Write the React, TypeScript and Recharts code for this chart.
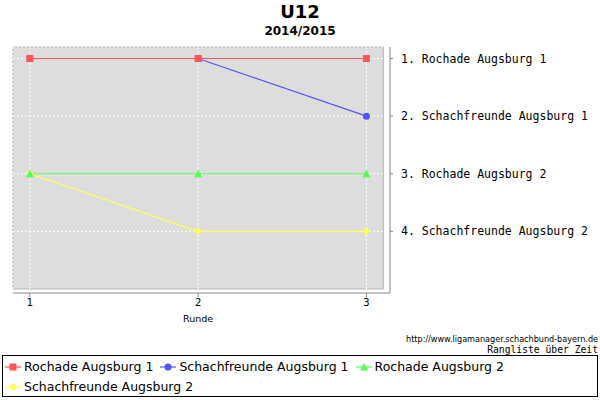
import {
  CartesianGrid,
  Line,
  LineChart,
  ReferenceArea,
  XAxis,
  YAxis,
} from "recharts";

const rounds = [1, 2, 3];
const rankTicks = [1, 2, 3, 4];
const standings = [
  "Rochade Augsburg 1",
  "Schachfreunde Augsburg 1",
  "Rochade Augsburg 2",
  "Schachfreunde Augsburg 2",
];

const rochade1 = [1, 1, 1];
const schach1 = [1, 1, 2];
const rochade2 = [3, 3, 3];
const schach2 = [3, 4, 4];

type Shape = "square" | "circle" | "triangle" | "diamond";

const series: { key: string; name: string; color: string; shape: Shape }[] = [
  { key: "r1", name: "Rochade Augsburg 1", color: "#ff5555", shape: "square" },
  { key: "s1", name: "Schachfreunde Augsburg 1", color: "#5555ff", shape: "circle" },
  { key: "r2", name: "Rochade Augsburg 2", color: "#55ff55", shape: "triangle" },
  { key: "s2", name: "Schachfreunde Augsburg 2", color: "#ffff55", shape: "diamond" },
];

const data = rounds.map((runde, i) => ({
  runde,
  r1: rochade1[i],
  s1: schach1[i],
  r2: rochade2[i],
  s2: schach2[i],
}));

const sans = "'DejaVu Sans', Verdana, sans-serif";
const mono = "'DejaVu Sans Mono', monospace";

function Marker({ shape, cx, cy, color }: { shape: Shape; cx: number; cy: number; color: string }) {
  if (shape === "square") {
    return <rect x={cx - 3.5} y={cy - 3.5} width={7} height={7} fill={color} />;
  }
  if (shape === "circle") {
    return <circle cx={cx} cy={cy} r={3.5} fill={color} />;
  }
  if (shape === "triangle") {
    return (
      <polygon
        points={`${cx},${cy - 4} ${cx + 4},${cy + 3.5} ${cx - 4},${cy + 3.5}`}
        fill={color}
      />
    );
  }
  return (
    <polygon
      points={`${cx},${cy - 4} ${cx + 4},${cy} ${cx},${cy + 4} ${cx - 4},${cy}`}
      fill={color}
    />
  );
}

export default function App() {
  // JFreeChart paints the first series on top, so draw them in reverse
  const drawOrder = [...series].reverse();

  return (
    <div
      style={{
        position: "absolute",
        left: 0,
        top: 0,
        width: 600,
        height: 400,
        background: "#fff",
      }}
    >
      <LineChart
        width={600}
        height={400}
        data={data}
        margin={{ top: 47, left: 13, right: 10, bottom: 77 }}
      >
        <ReferenceArea
          x1={0.9}
          x2={3.1}
          y1={0.8}
          y2={5}
          fill="#dddddd"
          fillOpacity={1}
          stroke="#b4b4b4"
          strokeWidth={1}
          {...({ zIndex: -200 } as any)}
        />
        <CartesianGrid
          stroke="#ffffff"
          strokeDasharray="2 2"
          {...({ zIndex: -100 } as any)}
        />
        <XAxis
          dataKey="runde"
          type="number"
          domain={[0.9, 3.14]}
          ticks={rounds}
          allowDataOverflow
          height={30}
          stroke="#888888"
          tickSize={4}
          tickMargin={2}
          tick={{ fill: "#000", fontSize: 10, fontFamily: sans }}
        />
        <YAxis
          orientation="right"
          type="number"
          reversed
          domain={[0.8, 5.07]}
          ticks={rankTicks}
          interval={0}
          allowDataOverflow
          width={200}
          stroke="#888888"
          tickSize={3}
          tickMargin={8}
          tick={{ fill: "#000", fontSize: 11.5, fontFamily: mono }}
          tickFormatter={(v: number) => `${v}. ${standings[v - 1]}`}
        />
        {drawOrder.map((s) => (
          <Line
            key={s.key}
            dataKey={s.key}
            name={s.name}
            type="linear"
            stroke={s.color}
            strokeWidth={1.2}
            isAnimationActive={false}
            activeDot={false}
            dot={(p: any) => (
              <Marker
                key={`${s.key}-${p.index}`}
                shape={s.shape}
                cx={p.cx}
                cy={p.cy}
                color={s.color}
              />
            )}
          />
        ))}
      </LineChart>

      <svg
        width={600}
        height={400}
        style={{ position: "absolute", left: 0, top: 0, pointerEvents: "none" }}
      >
        <text x={300} y={18} textAnchor="middle" fontFamily={sans} fontWeight="bold" fontSize={18}>
          U12
        </text>
        <text x={300} y={35} textAnchor="middle" fontFamily={sans} fontWeight="bold" fontSize={12}>
          2014/2015
        </text>
        <text x={198} y={322} textAnchor="middle" fontFamily={sans} fontSize={9.5} fill="#000">
          Runde
        </text>
        <text x={598} y={342} textAnchor="end" fontFamily={sans} fontSize={8.1}>
          http://www.ligamanager.schachbund-bayern.de
        </text>
        <text x={598} y={353} textAnchor="end" fontFamily={mono} fontSize={9.7}>
          Rangliste über Zeit
        </text>
      </svg>

      <div
        style={{
          position: "absolute",
          left: 2,
          top: 355,
          width: 596,
          height: 42,
          boxSizing: "border-box",
          border: "1px solid #000",
          padding: "1px 0 0 2px",
          display: "flex",
          flexWrap: "wrap",
          fontFamily: sans,
          fontSize: 12.5,
          lineHeight: "20px",
        }}
      >
        {series.map((s) => (
          <div key={s.key} style={{ display: "flex", alignItems: "center", marginRight: 7 }}>
            <svg width={18} height={12} style={{ marginRight: 1 }}>
              <line x1={0} y1={6} x2={16} y2={6} stroke={s.color} strokeWidth={1.2} />
              <Marker shape={s.shape} cx={8} cy={6} color={s.color} />
            </svg>
            <span>{s.name}</span>
          </div>
        ))}
      </div>
    </div>
  );
}
